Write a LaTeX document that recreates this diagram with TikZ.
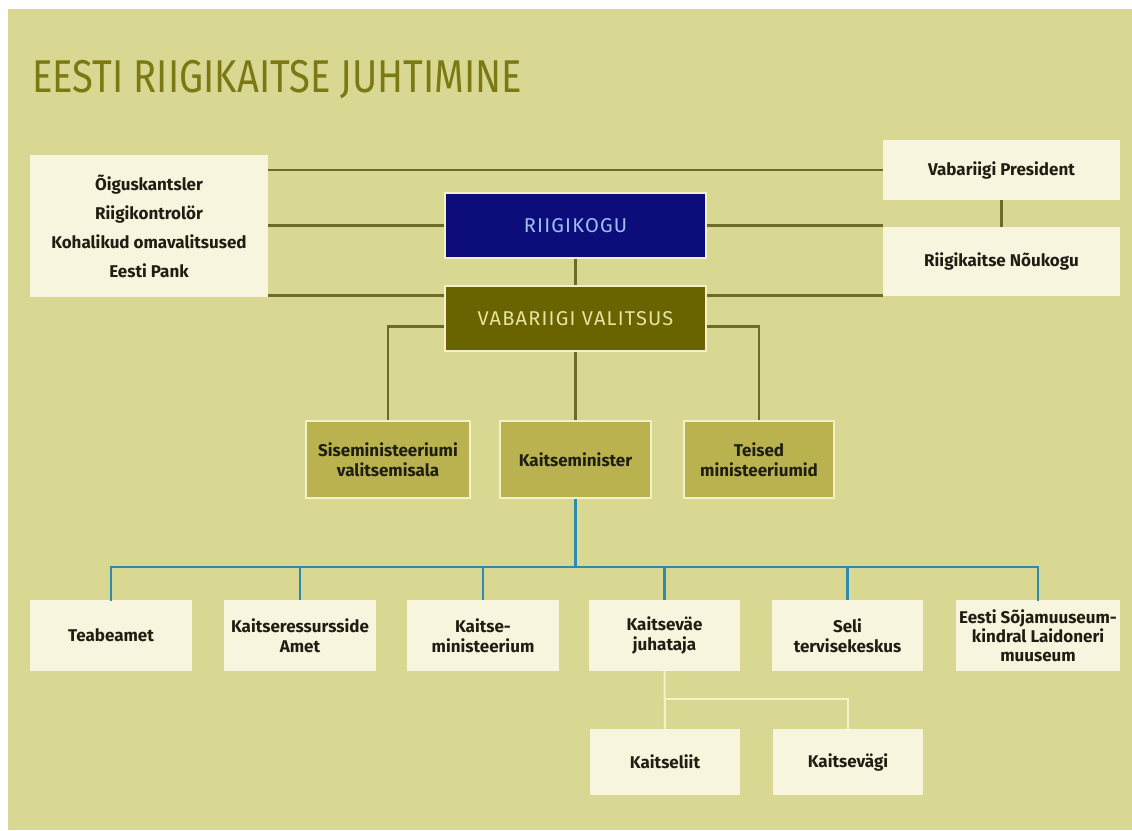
\documentclass[tikz,border=0pt]{standalone}
\usepackage{fontspec}
\setmainfont{Fira Sans}
\newfontfamily\boxfont{Fira Sans}
\newfontfamily\titlefont[FakeStretch=0.83]{Fira Sans}
\newfontfamily\capfont[LetterSpace=6]{Fira Sans}
\usetikzlibrary{calc}
\definecolor{bg}{HTML}{D9D893}
\definecolor{titlec}{HTML}{7A7914}
\definecolor{olline}{HTML}{6E6A2A}
\definecolor{navy}{HTML}{0C0C7A}
\definecolor{navytext}{HTML}{9EC0F0}
\definecolor{olive}{HTML}{6A6400}
\definecolor{olivetext}{HTML}{E6E4A0}
\definecolor{mid}{HTML}{BAB24E}
\definecolor{cream}{HTML}{F8F5DF}
\definecolor{edge}{HTML}{F4F0C8}
\definecolor{blueline}{HTML}{2E8AB0}
\definecolor{creamline}{HTML}{F6F2C8}
\definecolor{txt}{HTML}{1E1E12}
\tikzset{
  base/.style={rectangle, inner sep=2pt, align=center, text=txt,
    font=\boxfont\bfseries\fontsize{17}{20}\selectfont},
  creambox/.style={base, fill=cream},
  midbox/.style={base, fill=mid, draw=edge, line width=1.6pt},
  topbox/.style={base, draw=edge, line width=1.4pt,
    font=\capfont\fontsize{20}{24}\selectfont},
  olconn/.style={draw=olline, line width=2.6pt},
  blueconn/.style={draw=blueline, line width=2.8pt},
  creamconn/.style={draw=creamline, line width=2pt}
}
\begin{document}
\begin{tikzpicture}[x=1pt,y=-1pt]
\fill[white] (0,0) rectangle (1132,830);
\useasboundingbox (0,0) rectangle (1132,830);
\fill[bg] (8,9) rectangle (1132,830);

\node[anchor=west, inner sep=0, text=titlec, font=\titlefont\fontsize{46}{50}\selectfont] (title) at (32,80) {EESTI RIIGIKAITSE JUHTIMINE};

% top level boxes
\node[creambox, minimum width=238, minimum height=142,
  font=\boxfont\bfseries\fontsize{17}{29}\selectfont] (L) at (149,226)
  {Õiguskantsler\\Riigikontrolör\\Kohalikud omavalitsused\\Eesti Pank};
\node[creambox, minimum width=237, minimum height=60] (P) at (1001.5,170) {Vabariigi President};
\node[creambox, minimum width=237, minimum height=69] (N) at (1001.5,261.5) {Riigikaitse Nõukogu};
\node[topbox, fill=navy, text=navytext, minimum width=261, minimum height=65] (R) at (575.5,225.5) {RIIGIKOGU};
\node[topbox, fill=olive, text=olivetext, minimum width=261, minimum height=65] (V) at (575.5,318.5) {VABARIIGI VALITSUS};

% ministries
\node[midbox, minimum width=164, minimum height=77] (S) at (388,459.5) {Siseministeeriumi\\valitsemisala};
\node[midbox, minimum width=151, minimum height=77] (K) at (575.5,459.5) {Kaitseminister};
\node[midbox, minimum width=150, minimum height=77] (T) at (759,459.5) {Teised\\ministeeriumid};

% bottom row
\node[creambox, minimum width=162, minimum height=71] (B1) at (111,635.5) {Teabeamet};
\node[creambox, minimum width=152, minimum height=71] (B2) at (300,635.5) {Kaitseressursside\\Amet};
\node[creambox, minimum width=152, minimum height=71] (B3) at (483,635.5) {Kaitse-\\ministeerium};
\node[creambox, minimum width=151, minimum height=71] (B4) at (664.5,635.5) {Kaitseväe\\juhataja};
\node[creambox, minimum width=151, minimum height=71] (B5) at (847.5,635.5) {Seli\\tervisekeskus};
\node[creambox, minimum width=164, minimum height=71,
  font=\boxfont\bfseries\fontsize{17}{19}\selectfont] (B6) at (1038,635.5) {Eesti Sõjamuuseum-\\kindral Laidoneri\\muuseum};

\node[creambox, minimum width=150, minimum height=66] (KL) at (665,762) {Kaitseliit};
\node[creambox, minimum width=150, minimum height=66] (KV) at (848,762) {Kaitsevägi};

% olive connectors
\draw[olconn] (P.west) -- (P.west -| L.east);
\draw[olconn] (R.west) -- (R.west -| L.east);
\draw[olconn] (R.east) -- (R.east -| N.west);
\coordinate (v1) at ($(V.north west)+(0,10)$);
\coordinate (v2) at ($(V.north east)+(0,10)$);
\draw[olconn] (v1) -- (v1 -| L.east);
\draw[olconn] (v2) -- (v2 -| N.west);
\draw[olconn] (P.south) -- (N.north);
\draw[olconn] (R.south) -- (V.north);
\draw[olconn] (V.south) -- (K.north);
\coordinate (e1) at ($(V.north west)+(0,41)$);
\coordinate (e2) at ($(V.north east)+(0,41)$);
\draw[olconn] (e1) -| (S.north);
\draw[olconn] (e2) -| (T.north);

% blue connectors
\coordinate (bus) at (575.5,567);
\draw[blueconn] (K.south) -- (bus);
\draw[blueconn, line cap=rect] (B1.north) -- (B1.north |- bus) -- (B6.north |- bus) -- (B6.north);
\foreach \b in {B2,B3,B4,B5} \draw[blueconn] (\b.north) -- (\b.north |- bus);

% cream connectors
\coordinate (cb) at ($(B4.south)+(0,28)$);
\draw[creamconn] (B4.south) -- (KL.north);
\draw[creamconn] (KL.north |- cb) -| (KV.north);
\end{tikzpicture}
\end{document}
